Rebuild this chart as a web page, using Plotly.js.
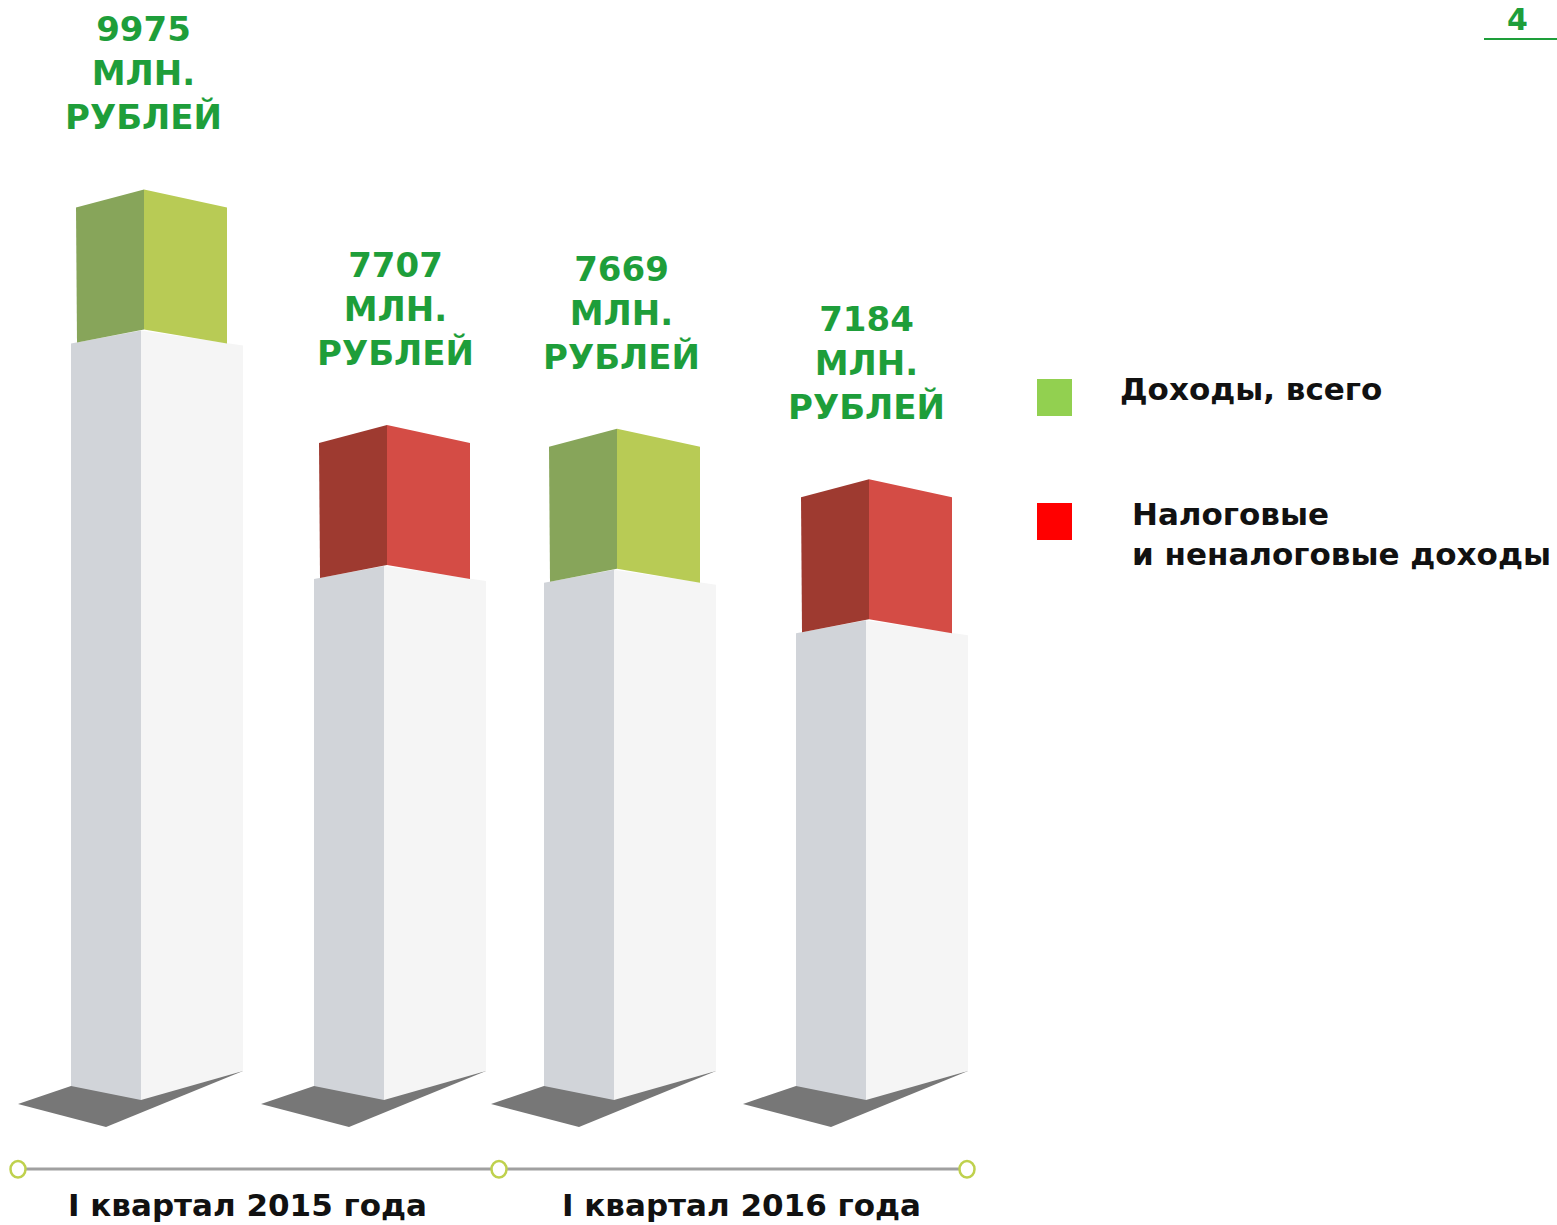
<!DOCTYPE html>
<html>
<head>
<meta charset="utf-8">
<script src="https://cdn.plot.ly/plotly-3.0.1.min.js"></script>
<style>html,body{margin:0;padding:0;background:#fff;}#chart{width:1557px;height:1225px;}</style>
</head>
<body>
<div id="chart"></div>
<script>
// ---- data ----
const periods = ['I квартал 2015 года', 'I квартал 2016 года'];
const seriesNames = ['Доходы, всего', 'Налоговые<br>и неналоговые доходы'];
const columnPeriod = [0, 0, 1, 1];
const columnSeries = [0, 1, 0, 1];
const values = [9975, 7707, 7669, 7184];
const unitLabel = 'МЛН.<br>РУБЛЕЙ';
const pageNumber = '4';

// ---- layout / style ----
const W = 1557, H = 1225;
const YMAX = 11800;               // value at top edge of the page
const K = H / YMAX;               // pixels per unit
const colX = [141, 384, 614, 866];
const labelX = [143, 395, 621, 866];
const green = '#1E9E3A';
const capColors = [['#87A55A', '#B8CB55'], ['#9E3A30', '#D44C45']];
const legendColors = ['#92D050', '#FF0000'];
const FONT = 'DejaVu Sans, Verdana, sans-serif';

function v2px(v) { return H - v * K; }
function px2v(p) { return (H - p) / K; }
function px2py(p) { return 1 - p / H; }

const traces = [];
function poly(xs, ysPx, color) {
  traces.push({
    type: 'scatter', mode: 'lines', fill: 'toself', fillcolor: color,
    x: xs.concat([xs[0]]), y: ysPx.concat([ysPx[0]]).map(px2v),
    line: { width: 0, color: color }, hoverinfo: 'skip', showlegend: false
  });
}

values.forEach((v, i) => {
  const c = colX[i];
  const a = v2px(v); // apex of the cap
  // shadow
  poly([c - 123, c - 70, c + 102, c - 35], [1104, 1086, 1071, 1127], '#777777');
  // pillar
  poly([c - 70, c, c, c - 70], [a + 154, a + 141, 1100, 1086], '#D1D4D9');
  poly([c, c + 102, c + 102, c], [a + 141, a + 156, 1071, 1100], '#F5F5F5');
  // cap
  const cc = capColors[columnSeries[i]];
  poly([c - 65, c + 3, c + 3, c - 64], [a + 18, a, a + 140, a + 153], cc[0]);
  poly([c + 3, c + 86, c + 86, c + 3], [a, a + 18, a + 154, a + 140], cc[1]);
});

const annotations = [];
const shapes = [];

values.forEach((v, i) => {
  annotations.push({
    x: labelX[i], y: v, xref: 'x', yref: 'y', xanchor: 'center', yanchor: 'bottom',
    yshift: 50, showarrow: false, align: 'center',
    text: String(v) + '<br>' + unitLabel,
    font: { family: FONT, size: 34, color: green, weight: 'bold' }
  });
});

// legend
const legendY = [[379, 416, 389], [503, 540, 534]];
const legendTextX = [1118, 1130];
seriesNames.forEach((s, i) => {
  shapes.push({
    type: 'rect', xref: 'paper', yref: 'paper',
    x0: 1037 / W, x1: 1072 / W, y0: px2py(legendY[i][1]), y1: px2py(legendY[i][0]),
    fillcolor: legendColors[i], line: { width: 0 }
  });
  annotations.push({
    x: legendTextX[i] / W, y: px2py(legendY[i][2]), xref: 'paper', yref: 'paper',
    xanchor: 'left', yanchor: 'middle', showarrow: false, align: 'left',
    text: s, font: { family: FONT, size: 31, color: '#111111', weight: 'bold' }
  });
});

// timeline
shapes.push({
  type: 'line', xref: 'paper', yref: 'paper',
  x0: 18 / W, x1: 967 / W, y0: px2py(1169), y1: px2py(1169),
  line: { color: '#A0A0A0', width: 3 }
});
[18, 499, 967].forEach(x => {
  shapes.push({
    type: 'circle', xref: 'paper', yref: 'paper',
    x0: (x - 7.5) / W, x1: (x + 7.5) / W, y0: px2py(1177.5), y1: px2py(1161),
    fillcolor: '#FFFFFF', line: { color: '#BFD14D', width: 2.5 }
  });
});
const periodX = [247, 741];
periods.forEach((p, i) => {
  annotations.push({
    x: periodX[i] / W, y: px2py(1205), xref: 'paper', yref: 'paper',
    xanchor: 'center', yanchor: 'middle', showarrow: false,
    text: p, font: { family: FONT, size: 31, color: '#111111', weight: 'bold' }
  });
});

// page number
annotations.push({
  x: 1517 / W, y: 1, xref: 'paper', yref: 'paper',
  xanchor: 'center', yanchor: 'top', showarrow: false,
  text: pageNumber, font: { family: FONT, size: 30, color: green, weight: 'bold' }
});
shapes.push({
  type: 'line', xref: 'paper', yref: 'paper',
  x0: 1484 / W, x1: 1, y0: px2py(39), y1: px2py(39),
  line: { color: green, width: 2 }
});

const layout = {
  width: W, height: H,
  margin: { l: 0, r: 0, t: 0, b: 0, pad: 0 },
  paper_bgcolor: '#FFFFFF', plot_bgcolor: '#FFFFFF',
  xaxis: { range: [0, W], visible: false, fixedrange: true },
  yaxis: { range: [0, YMAX], visible: false, fixedrange: true },
  showlegend: false,
  annotations: annotations,
  shapes: shapes
};

Plotly.newPlot('chart', traces, layout, { displayModeBar: false, staticPlot: true });
</script>
</body>
</html>
